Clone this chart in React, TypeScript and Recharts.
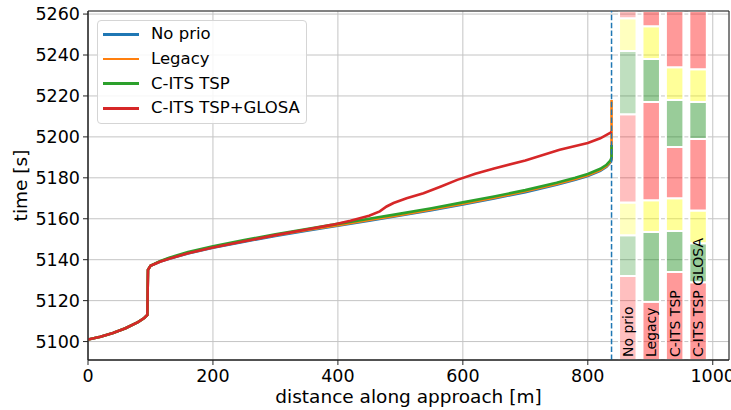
import React from 'react';
import { ComposedChart, Line, XAxis, YAxis, CartesianGrid, ReferenceArea, ReferenceLine } from 'recharts';

const xTicks = [0, 200, 400, 600, 800, 1000];
const yTicks = [5100, 5120, 5140, 5160, 5180, 5200, 5220, 5240, 5260];
const xDomain = [0, 1026];
const yDomain = [5091, 5261.5];

// trajectories: distance [m] vs time [s]
const baseDist = [0, 20, 40, 60, 80, 90, 95, 95.5, 96, 100, 115, 130, 160, 200, 250, 300, 350, 400, 450, 500, 550, 600, 650, 700, 750, 780, 800, 820, 830, 836, 838, 838];
const noPrioTime = [5101, 5102.4, 5104.2, 5106.5, 5109.5, 5111.5, 5113, 5125, 5135, 5137, 5139, 5140.5, 5143, 5145.8, 5148.8, 5151.6, 5154.2, 5156.6, 5159.1, 5161.6, 5164.2, 5167, 5169.9, 5173, 5176.6, 5179, 5180.9, 5183.4, 5185.4, 5187.4, 5189, 5190];
const legacyTime = [5101, 5102.4, 5104.2, 5106.5, 5109.5, 5111.5, 5113, 5125, 5135, 5137, 5139.1, 5140.7, 5143.3, 5146.1, 5149.1, 5151.9, 5154.5, 5156.9, 5159.4, 5161.9, 5164.5, 5167.4, 5170.3, 5173.4, 5177, 5179.4, 5181.3, 5183.8, 5185.8, 5187.8, 5189.3, 5218];
const tspTime = [5101, 5102.4, 5104.2, 5106.5, 5109.5, 5111.5, 5113, 5125, 5135, 5137, 5139.3, 5141, 5143.7, 5146.6, 5149.6, 5152.4, 5155, 5157.5, 5160, 5162.5, 5165.1, 5168, 5170.9, 5174, 5177.6, 5180, 5181.9, 5184.4, 5186.4, 5188.4, 5189.8, 5196];
const glosaDist = [0, 20, 40, 60, 80, 90, 95, 95.5, 96, 100, 115, 130, 160, 200, 250, 300, 350, 390, 420, 450, 467, 478, 489, 510, 537, 565, 591, 620, 650, 700, 755, 800, 820, 835, 838];
const glosaTime = [5101, 5102.4, 5104.2, 5106.5, 5109.5, 5111.5, 5113, 5125, 5135, 5137, 5139, 5140.5, 5143.2, 5146, 5149, 5152, 5154.8, 5157, 5159, 5161.5, 5163.6, 5166, 5167.7, 5170, 5172.5, 5175.8, 5179, 5182, 5184.5, 5188.5, 5193.7, 5197, 5199.3, 5201.8, 5202.5];

const stopLine = 838;

// signal phase columns
const columnNames = ['No prio', 'Legacy', 'C-ITS TSP', 'C-ITS TSP GLOSA'];
const columnCenters = [864, 901.5, 939, 976.5];
const columnOpacity = [0.25, 0.4, 0.4, 0.4];
const phaseStates = ['red', 'green', 'yellow', 'red', 'green', 'yellow', 'red'];
const noPrioSwitch = [5132, 5152, 5168, 5211, 5242, 5258];
const legacySwitch = [5119.5, 5153.5, 5169, 5217, 5238, 5254];
const tspSwitch = [5134, 5154, 5170, 5195, 5218, 5234];
const glosaSwitch = [5129, 5148, 5164, 5199, 5217, 5233];

const phaseColor: Record<string, string> = { red: '#ff0000', green: '#008000', yellow: '#ffff00' };
const halfWidth = 14;
const font = 'DejaVu Sans, sans-serif';

const toData = (d: number[], t: number[]) => d.map((x, i) => ({ d: x, t: t[i] }));

const series = [
    { name: 'No prio', color: '#1f77b4', data: toData(baseDist, noPrioTime) },
    { name: 'Legacy', color: '#ff7f0e', data: toData(baseDist, legacyTime) },
    { name: 'C-ITS TSP', color: '#2ca02c', data: toData(baseDist, tspTime) },
    { name: 'C-ITS TSP+GLOSA', color: '#d62728', data: toData(glosaDist, glosaTime) },
];

const switches = [noPrioSwitch, legacySwitch, tspSwitch, glosaSwitch];

const LegendBox = () => (
    <div style={{
        position: 'absolute', left: 97, top: 20,
        width: 208, height: 101, border: '1px solid #d5d5d5', borderRadius: 4,
        background: 'rgba(255,255,255,0.85)', fontFamily: font, fontSize: 16.5, color: '#000',
        paddingTop: 1,
    }}>
        {series.map(s => (
            <div key={s.name} style={{ display: 'flex', alignItems: 'center', height: 24.7, paddingLeft: 5 }}>
                <div style={{ width: 36, height: 2.6, background: s.color, marginRight: 12 }} />
                <span style={{ lineHeight: '20px', whiteSpace: 'nowrap' }}>{s.name}</span>
            </div>
        ))}
    </div>
);

const App: React.FC = () => {
    return (
        <div style={{ position: 'absolute', left: 0, top: 0, width: 731, height: 410, background: '#fff' }}>
            <ComposedChart width={731} height={410} data={series[0].data} margin={{ top: 11, right: 2, bottom: 0, left: 0 }}>
                <CartesianGrid stroke="#c4c4c4" strokeWidth={1} />
                <XAxis
                    dataKey="d"
                    type="number"
                    domain={xDomain}
                    ticks={xTicks}
                    allowDataOverflow
                    height={50}
                    tickSize={5}
                    tickMargin={5}
                    stroke="#222"
                    tick={{ fill: '#000', fontSize: 17.5, fontFamily: font }}
                    label={{
                        content: (p: any) => {
                            const vb = p.viewBox || {};
                            return (
                                <text x={vb.x + vb.width / 2} y={vb.y + 43} textAnchor="middle" fontSize={18.5} fontFamily={font} fill="#000">
                                    distance along approach [m]
                                </text>
                            );
                        },
                    }}
                />
                <YAxis
                    type="number"
                    domain={yDomain}
                    ticks={yTicks}
                    allowDataOverflow
                    width={88}
                    tickSize={5}
                    tickMargin={3}
                    stroke="#222"
                    tick={{ fill: '#000', fontSize: 17.5, fontFamily: font }}
                    label={{
                        content: (p: any) => {
                            const vb = p.viewBox || {};
                            const cx = 20;
                            const cy = vb.y + vb.height / 2;
                            return (
                                <text x={cx} y={cy} transform={`rotate(-90, ${cx}, ${cy})`} textAnchor="middle" dominantBaseline="central" fontSize={18.5} fontFamily={font} fill="#000">
                                    time [s]
                                </text>
                            );
                        },
                    }}
                />
                {columnCenters.map((c, ci) => {
                    const bounds = [yDomain[0], ...switches[ci], yDomain[1]];
                    return phaseStates.map((st, k) => (
                        <ReferenceArea
                            key={`${ci}-${k}`}
                            x1={c - halfWidth}
                            x2={c + halfWidth}
                            y1={bounds[k]}
                            y2={bounds[k + 1]}
                            fill={phaseColor[st]}
                            fillOpacity={columnOpacity[ci]}
                            stroke="#fff"
                            strokeWidth={2}
                            strokeOpacity={1}
                            ifOverflow="hidden"
                        />
                    ));
                })}
                {columnCenters.map((c, ci) => (
                    <ReferenceArea
                        key={`lbl-${ci}`}
                        x1={c - halfWidth}
                        x2={c + halfWidth}
                        y1={yDomain[0]}
                        y2={yDomain[1]}
                        fill="none"
                        stroke="none"
                        ifOverflow="hidden"
                        label={{
                            content: (p: any) => {
                                const vb = p.viewBox || {};
                                const tx = vb.x + vb.width / 2;
                                const ty = vb.y + vb.height - 3;
                                return (
                                    <text x={tx} y={ty} transform={`rotate(-90, ${tx}, ${ty})`} textAnchor="start" dominantBaseline="central" fontSize={14} fontFamily={font} fill="#000">
                                        {columnNames[ci]}
                                    </text>
                                );
                            },
                        }}
                    />
                ))}
                {series.map(s => (
                    <Line
                        key={s.name}
                        data={s.data}
                        dataKey="t"
                        name={s.name}
                        type="linear"
                        stroke={s.color}
                        strokeWidth={2.6}
                        dot={false}
                        activeDot={false}
                        isAnimationActive={false}
                    />
                ))}
                <ReferenceLine x={stopLine} stroke="#1f77b4" strokeWidth={1.5} strokeDasharray="5.5 2.4" />
                <ReferenceArea x1={xDomain[0]} x2={xDomain[1]} y1={yDomain[0]} y2={yDomain[1]} fill="none" stroke="#222" strokeWidth={1} />
            </ComposedChart>
            <LegendBox />
        </div>
    );
};

export default App;
